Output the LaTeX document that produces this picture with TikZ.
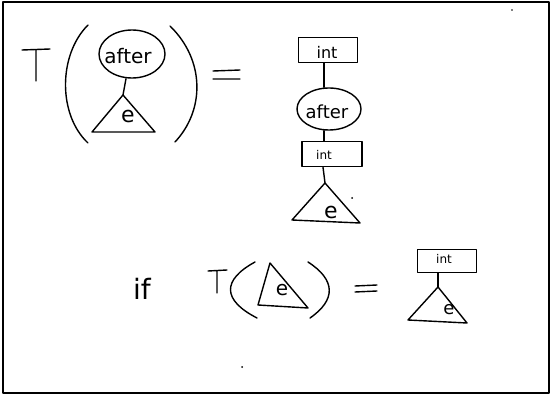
\documentclass[tikz,border=0pt]{standalone}
\usepackage{fontspec}
\setmainfont{DejaVu Sans}
\usetikzlibrary{shapes.geometric}
\begin{document}
\begin{tikzpicture}[x=1pt,y=-1pt,line width=1.4pt,line cap=round,line join=round,
  ovalnode/.style={ellipse,draw,inner sep=0pt},
  boxnode/.style={rectangle,draw,inner sep=0pt},
  lbl/.style={inner sep=0pt}]
\useasboundingbox (0,0) rectangle (551,395);
\draw[line width=1.6pt] (3,2) rectangle (549,393);
% ---------- top-left: T( tree ) =
\draw (22,50) -- (50,49) (36,50) -- (36,81);
\draw (88,25) .. controls (58,55) and (58,115) .. (88,143);
\node[ovalnode,minimum width=66pt,minimum height=48pt] (afterA) at (132,54) {};
\node[lbl,font=\fontsize{20}{20}\selectfont] (afterAt) at (128,56) {after};
\coordinate (apexA) at (123,95);
\coordinate (leftA) at (92,132);
\coordinate (rightA) at (155,132);
\draw (afterA.south) ++(-6,0) coordinate (afterAb) -- (apexA);
\draw (apexA) -- (leftA) -- (rightA) -- cycle;
\node[lbl,font=\fontsize{22}{22}\selectfont] (eA) at (128,116) {e};
\draw (170,26) .. controls (205,60) and (205,110) .. (175,142);
\draw (213,71) -- (240,70) (213,79) -- (240,79);
% ---------- middle column
\node[boxnode,minimum width=59pt,minimum height=25pt] (int1) at (328,50) {};
\node[lbl,font=\fontsize{16}{16}\selectfont] (int1t) at (327,52) {int};
\node[ovalnode,minimum width=64pt,minimum height=42pt] (afterB) at (329,109) {};
\node[lbl,font=\fontsize{18}{18}\selectfont] (afterBt) at (327,112) {after};
\node[boxnode,minimum width=60pt,minimum height=25pt] (int2) at (332,154) {};
\node[lbl,font=\fontsize{12}{12}\selectfont] (int2t) at (324,155) {int};
\coordinate (apexB) at (325,183);
\coordinate (leftB) at (292,220);
\coordinate (rightB) at (360,223);
\draw (int1.south -| 324,0) -- (afterB.north -| 324,0);
\draw (afterB.south -| 324,0) -- (int2.north -| 324,0);
\draw (int2.south -| 323,0) -- (apexB);
\draw (apexB) -- (leftB) -- (rightB) -- cycle;
\node[lbl,font=\fontsize{22}{22}\selectfont] (eB) at (331,212) {e};
\fill (352,198) circle (1pt);
% ---------- bottom row
\node[lbl,font=\fontsize{28}{28}\selectfont] (iftext) at (142,289) {if};
\draw (208,271) -- (227,270) (217,271) -- (217,293);
\draw (255,262) .. controls (222,280) and (222,300) .. (257,318);
\coordinate (apexC) at (270,263);
\coordinate (leftC) at (258,305);
\coordinate (rightC) at (308,308);
\draw (apexC) -- (leftC) -- (rightC) -- cycle;
\node[lbl,font=\fontsize{20}{20}\selectfont] (eC) at (282,290) {e};
\draw (308,262) .. controls (336,280) and (336,300) .. (310,318);
\draw (355,286) -- (377,285) (355,292) -- (377,291);
\node[boxnode,minimum width=59pt,minimum height=23pt] (int3) at (447,261) {};
\node[lbl,font=\fontsize{12}{12}\selectfont] (int3t) at (444,259) {int};
\coordinate (apexD) at (438,287);
\coordinate (leftD) at (408,320);
\coordinate (rightD) at (467,323);
\draw (int3.south -| 438,0) -- (apexD);
\draw (apexD) -- (leftD) -- (rightD) -- cycle;
\node[lbl,font=\fontsize{18}{18}\selectfont] (eD) at (449,310) {e};
\fill (242,367) circle (1pt);
\fill (512,10) circle (0.8pt);
\end{tikzpicture}
\end{document}
